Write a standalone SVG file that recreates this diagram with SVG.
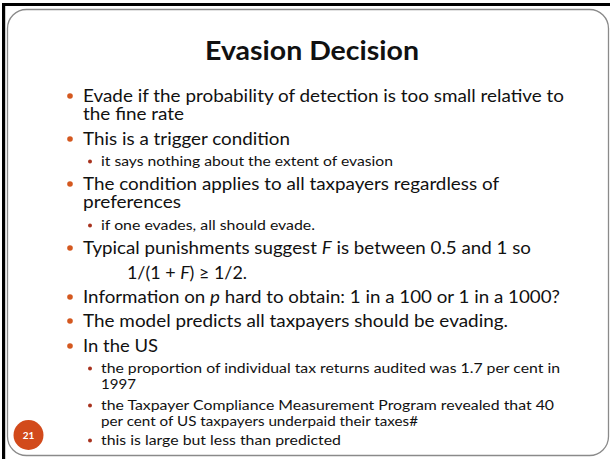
<svg xmlns="http://www.w3.org/2000/svg" width="610" height="459" viewBox="0 0 610 459">
<style>
.t{font-family:Lato,"Open Sans","Liberation Sans",sans-serif;fill:#111}
.m{font-size:16.5px}
.s{font-size:13.5px}
.b1{fill:#D4581F}
.b2{fill:#A8321E}
</style>
<rect width="610" height="459" fill="#fff"/>
<g id="frame">
<rect x="2" y="3" width="3.2" height="456" fill="#000"/>
<rect x="2" y="3" width="608" height="3" fill="#000"/>
<rect x="7.5" y="9.5" width="601" height="446" rx="19" ry="19" fill="none" stroke="#8a8a8a" stroke-width="1.3"/>
</g>
<g id="title">
<text class="t" x="312" y="60" text-anchor="middle" font-size="27" font-weight="bold" textLength="214" lengthAdjust="spacingAndGlyphs">Evasion Decision</text>
</g>
<g id="bullets">
<circle class="b1" cx="70" cy="96" r="2.8"/>
<text class="t m"><tspan x="83" y="102" textLength="481" lengthAdjust="spacingAndGlyphs">Evade if the probability of detection is too small relative to</tspan><tspan x="83" y="120" textLength="101" lengthAdjust="spacingAndGlyphs">the fine rate</tspan></text>
<circle class="b1" cx="70" cy="139" r="2.8"/>
<text class="t m" x="83" y="145" textLength="207" lengthAdjust="spacingAndGlyphs">This is a trigger condition</text>
<circle class="b2" cx="90" cy="161.5" r="2"/>
<text class="t s" x="101" y="166" textLength="292" lengthAdjust="spacingAndGlyphs">it says nothing about the extent of evasion</text>
<circle class="b1" cx="70" cy="184" r="2.8"/>
<text class="t m"><tspan x="83" y="190" textLength="416" lengthAdjust="spacingAndGlyphs">The condition applies to all taxpayers regardless of</tspan><tspan x="83" y="208" textLength="98" lengthAdjust="spacingAndGlyphs">preferences</tspan></text>
<circle class="b2" cx="90" cy="225.5" r="2"/>
<text class="t s" x="101" y="230" textLength="214" lengthAdjust="spacingAndGlyphs">if one evades, all should evade.</text>
<circle class="b1" cx="70" cy="248" r="2.8"/>
<text class="t m" x="83" y="254" textLength="448" lengthAdjust="spacingAndGlyphs">Typical punishments suggest <tspan font-style="italic">F</tspan> is between 0.5 and 1 so</text>
<text class="t m" x="127" y="279" textLength="120" lengthAdjust="spacingAndGlyphs">1/(1 + <tspan font-style="italic">F</tspan>) ≥ 1/2.</text>
<circle class="b1" cx="70" cy="297" r="2.8"/>
<text class="t m" x="83" y="303" textLength="477" lengthAdjust="spacingAndGlyphs">Information on <tspan font-style="italic">p</tspan> hard to obtain: 1 in a 100 or 1 in a 1000?</text>
<circle class="b1" cx="70" cy="321" r="2.8"/>
<text class="t m" x="83" y="327" textLength="425" lengthAdjust="spacingAndGlyphs">The model predicts all taxpayers should be evading.</text>
<circle class="b1" cx="70" cy="346" r="2.8"/>
<text class="t m" x="83" y="352" textLength="75" lengthAdjust="spacingAndGlyphs">In the US</text>
<circle class="b2" cx="90" cy="368.5" r="2"/>
<text class="t s"><tspan x="101" y="373" textLength="459" lengthAdjust="spacingAndGlyphs">the proportion of individual tax returns audited was 1.7 per cent in</tspan><tspan x="101" y="389" textLength="35" lengthAdjust="spacingAndGlyphs">1997</tspan></text>
<circle class="b2" cx="90" cy="405.5" r="2"/>
<text class="t s"><tspan x="101" y="410" textLength="453" lengthAdjust="spacingAndGlyphs">the Taxpayer Compliance Measurement Program revealed that 40</tspan><tspan x="101" y="426" textLength="317" lengthAdjust="spacingAndGlyphs">per cent of US taxpayers underpaid their taxes#</tspan></text>
<circle class="b2" cx="90" cy="440.5" r="2"/>
<text class="t s" x="101" y="445" textLength="240" lengthAdjust="spacingAndGlyphs">this is large but less than predicted</text>
</g>
<g id="pagenum">
<circle cx="28.5" cy="435" r="15" fill="#D24A1B"/>
<text x="28.5" y="438.5" text-anchor="middle" font-family="Lato,'Liberation Sans',sans-serif" font-size="10" font-weight="bold" fill="#fff">21</text>
</g>
</svg>
